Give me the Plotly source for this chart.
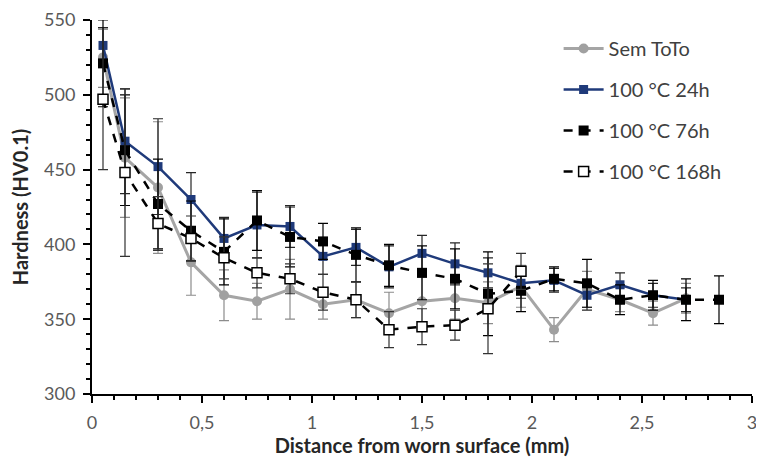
import plotly.graph_objects as go

x_all = [0.05, 0.15, 0.3, 0.45, 0.6, 0.75, 0.9, 1.05, 1.2, 1.35, 1.5, 1.65, 1.8, 1.95, 2.1, 2.25, 2.4, 2.55, 2.7, 2.85]

sem_y = [525, 458, 438, 388, 366, 362, 370, 360, 363, 354, 362, 364, 361, 372, 343, 370, 363, 354, 364]
sem_err = [20, 40, 44, 22, 17, 12, 20, 10, 12, 14, 16, 14, 14, 14, 8, 12, 8, 8, 10]

h24_y = [533, 469, 452, 430, 404, 413, 412, 392, 398, 385, 394, 387, 381, 374, 376, 366, 373, 366, 363]
h24_err = [12, 35, 32, 18, 14, 22, 14, 12, 12, 14, 12, 14, 10, 10, 8, 10, 8, 8, 8]

h76_y = [521, 463, 427, 409, 395, 416, 405, 402, 393, 386, 381, 377, 367, 369, 377, 374, 363, 366, 363, 363]
h76_err = [29, 37, 30, 20, 22, 20, 20, 12, 18, 14, 18, 20, 28, 14, 8, 16, 10, 10, 14, 16]

h168_y = [497, 448, 414, 404, 391, 381, 377, 368, 363, 343, 345, 346, 357, 382]
h168_err = [47, 56, 18, 15, 14, 10, 10, 12, 12, 12, 12, 10, 30, 12]

names = ["Sem ToTo", "100 °C 24h", "100 °C 76h", "100 °C 168h"]
x_tickvals = [0, 0.5, 1, 1.5, 2, 2.5, 3]
x_ticktext = ["0", "0,5", "1", "1,5", "2", "2,5", "3"]

fig = go.Figure()

fig.add_trace(go.Scatter(
    x=x_all[:len(sem_y)], y=sem_y, name=names[0], legendgroup="a",
    mode="lines+markers",
    line=dict(color="#A5A5A5", width=3),
    marker=dict(symbol="circle", size=10, color="#A0A0A0"),
    error_y=dict(type="data", array=sem_err, color="#8C8C8C", thickness=1.2, width=5),
))
fig.add_trace(go.Scatter(
    x=x_all[:len(h24_y)], y=h24_y, name=names[1], legendgroup="b",
    mode="lines+markers",
    line=dict(color="#1F3A7A", width=2.5),
    marker=dict(symbol="square", size=9, color="#1F3A7A"),
    error_y=dict(type="data", array=h24_err, color="#262626", thickness=1.2, width=5),
))
fig.add_trace(go.Scatter(
    x=x_all[:len(h76_y)], y=h76_y, name=names[2], legendgroup="c",
    mode="lines+markers",
    line=dict(color="#000000", width=2.5, dash="dash"),
    marker=dict(symbol="square", size=10, color="#000000"),
    error_y=dict(type="data", array=h76_err, color="#000000", thickness=1.2, width=5),
))
fig.add_trace(go.Scatter(
    x=x_all[:len(h168_y)], y=h168_y, name=names[3], legendgroup="d",
    mode="lines+markers",
    line=dict(color="#000000", width=2.5, dash="dash"),
    marker=dict(symbol="square", size=10, color="#FFFFFF", line=dict(color="#000000", width=1.5)),
    error_y=dict(type="data", array=h168_err, color="#333333", thickness=1.2, width=5),
))

FONT = "Lato, 'Open Sans', sans-serif"
axis_font = dict(family=FONT, size=18, color="#595959")

fig.update_layout(
    width=764, height=462,
    margin=dict(l=84, r=20, t=12, b=76),
    paper_bgcolor="white", plot_bgcolor="white",
    font=dict(family=FONT),
    legend=dict(
        x=0.707, y=0.976, xanchor="left", yanchor="top",
        font=dict(family=FONT, size=20, color="#404040"),
        bgcolor="rgba(0,0,0,0)",
        tracegroupgap=12,
        traceorder="grouped",
        itemwidth=40,
    ),
    xaxis=dict(
        range=[0, 3], tickmode="array", automargin=False,
        tickvals=x_tickvals, ticktext=x_ticktext,
        showgrid=False, zeroline=False,
        showline=True, linecolor="#000000", linewidth=2,
        ticks="outside", ticklen=7, tickwidth=2, tickcolor="#000000",
        ticklabelstandoff=4, ticklabeloverflow="allow",
        minor=dict(dtick=0.1, ticks="outside", ticklen=4, tickwidth=1.5, tickcolor="#000000"),
        tickfont=axis_font,
        title=dict(text="<b>Distance from worn surface (mm)</b>", font=dict(family=FONT, size=20, color="#262626"), standoff=0),
    ),
    yaxis=dict(
        range=[300, 550], tickmode="linear", tick0=300, dtick=50, automargin=False,
        showgrid=False, zeroline=False,
        showline=True, linecolor="#000000", linewidth=2,
        ticks="outside", ticklen=7, tickwidth=2, tickcolor="#000000",
        ticklabelstandoff=4, ticklabeloverflow="allow",
        minor=dict(dtick=10, ticks="outside", ticklen=4, tickwidth=1.5, tickcolor="#000000"),
        tickfont=axis_font,
        title=dict(text="<b>Hardness (HV0.1)</b>", font=dict(family=FONT, size=20, color="#262626"), standoff=15),
    ),
)

fig.write_html("out.html", config={"responsive": False})
